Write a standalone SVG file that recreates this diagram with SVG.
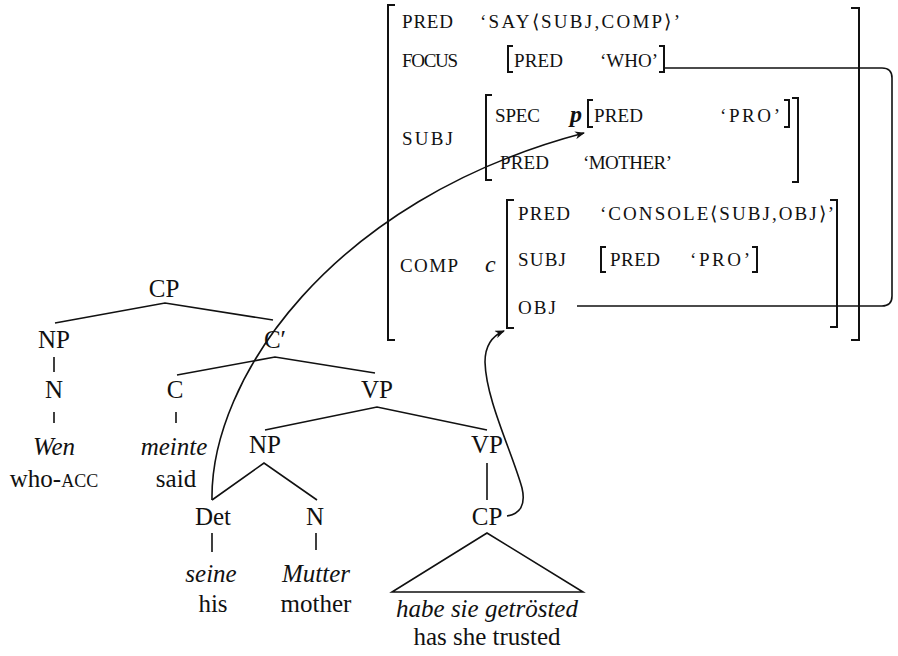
<svg xmlns="http://www.w3.org/2000/svg" width="898" height="656" viewBox="0 0 898 656">
<style>
.t{font-family:"Liberation Serif","Times New Roman",serif;font-size:25px;fill:#111;text-anchor:middle}
.i{font-style:italic}
.sc{font-family:"Liberation Serif","Times New Roman",serif;font-size:19px;fill:#111}
.var{font-family:"Liberation Serif","Times New Roman",serif;font-style:italic;fill:#111}
.ln{stroke:#111;stroke-width:1.6;fill:none}
.br{stroke:#111;stroke-width:2;fill:none}
.cn{stroke:#111;stroke-width:1.6;fill:none}
</style>
<defs>
<marker id="arr" viewBox="0 0 10 8" refX="9" refY="4" markerWidth="10" markerHeight="8" markerUnits="userSpaceOnUse" orient="auto">
<path d="M0,0 L10,4 L0,8 L3,4 Z" fill="#111"/>
</marker>
</defs>
<rect width="898" height="656" fill="#fff"/>

<!-- F-structure -->
<g id="f-outer">
<path class="br" d="M395 5 H388 V340 H395"/>
<path class="br" d="M851 8 H859 V340 H851"/>
<text class="sc" x="402" y="28" textLength="51" lengthAdjust="spacing">PRED</text>
<text class="sc" x="480" y="28" textLength="200" lengthAdjust="spacing">‘SAY⟨SUBJ,COMP⟩’</text>
<text class="sc" x="402" y="67" textLength="56" lengthAdjust="spacing">FOCUS</text>
<text class="sc" x="402" y="145" textLength="51" lengthAdjust="spacing">SUBJ</text>
<text class="sc" x="400" y="272" textLength="58" lengthAdjust="spacing">COMP</text>
</g>
<g id="f-focus">
<path class="br" d="M513 46 H508 V72 H513"/>
<path class="br" d="M659 46 H664 V72 H659"/>
<text class="sc" x="514" y="67" textLength="49" lengthAdjust="spacing">PRED</text>
<text class="sc" x="600" y="67" textLength="58" lengthAdjust="spacing">‘WHO’</text>
</g>
<g id="f-subj">
<path class="br" d="M492 95 H486 V180 H492"/>
<path class="br" d="M792 98 H798 V182 H792"/>
<text class="sc" x="495" y="122" textLength="45" lengthAdjust="spacing">SPEC</text>
<text class="var" x="570" y="122" font-size="24" font-weight="bold">p</text>
<text class="sc" x="500" y="169" textLength="49" lengthAdjust="spacing">PRED</text>
<text class="sc" x="583" y="169" textLength="89" lengthAdjust="spacing">‘MOTHER’</text>
</g>
<g id="f-spec">
<path class="br" d="M593 100 H588 V127 H593"/>
<path class="br" d="M784 100 H789 V127 H784"/>
<text class="sc" x="594" y="122" textLength="49" lengthAdjust="spacing">PRED</text>
<text class="sc" x="720" y="122" textLength="60" lengthAdjust="spacing">‘PRO’</text>
</g>
<g id="f-comp">
<path class="br" d="M514 200 H507 V328 H514"/>
<path class="br" d="M830 200 H837 V327 H830"/>
<text class="var" x="485" y="272" font-size="24">c</text>
<text class="sc" x="518" y="220" textLength="52" lengthAdjust="spacing">PRED</text>
<text class="sc" x="600" y="220" textLength="234" lengthAdjust="spacing">‘CONSOLE⟨SUBJ,OBJ⟩’</text>
<text class="sc" x="518" y="266" textLength="48" lengthAdjust="spacing">SUBJ</text>
<text class="sc" x="518" y="314" textLength="38" lengthAdjust="spacing">OBJ</text>
</g>
<g id="f-comp-subj">
<path class="br" d="M606 247 H601 V272 H606"/>
<path class="br" d="M752 247 H757 V272 H752"/>
<text class="sc" x="610" y="266" textLength="50" lengthAdjust="spacing">PRED</text>
<text class="sc" x="690" y="266" textLength="60" lengthAdjust="spacing">‘PRO’</text>
</g>

<!-- Tree edges -->
<g id="tree-edges">
<path class="ln" d="M55 323 L165 303 L273 320"/>
<path class="ln" d="M54 357 V372 M54 412 V423"/>
<path class="ln" d="M177 375 L275 357 L375 373"/>
<path class="ln" d="M176 412 V423"/>
<path class="ln" d="M265 430 L377 407 L487 430"/>
<path class="ln" d="M212 500 L264 463 L317 500"/>
<path class="ln" d="M212 533 V552 M316 533 V550"/>
<path class="ln" d="M487 463 V500"/>
<path class="ln" d="M487 533 L392 592 H583 Z"/>
</g>

<!-- Tree nodes -->
<g id="n-cp"><text class="t" x="164" y="297">CP</text></g>
<g id="n-np1"><text class="t" x="54" y="348">NP</text></g>
<g id="n-n1"><text class="t" x="54" y="398">N</text></g>
<g id="n-wen"><text class="t i" x="54" y="455">Wen</text><text class="t" x="54" y="487">who-<tspan font-size="18">ACC</tspan></text></g>
<g id="n-cbar"><text class="t" x="275" y="348">C′</text></g>
<g id="n-c"><text class="t" x="175" y="398">C</text></g>
<g id="n-meinte"><text class="t i" x="174" y="455">meinte</text><text class="t" x="176" y="487">said</text></g>
<g id="n-vp1"><text class="t" x="377" y="398">VP</text></g>
<g id="n-np2"><text class="t" x="265" y="453">NP</text></g>
<g id="n-vp2"><text class="t" x="487" y="453">VP</text></g>
<g id="n-det"><text class="t" x="213" y="525">Det</text></g>
<g id="n-n2"><text class="t" x="315" y="525">N</text></g>
<g id="n-cp2"><text class="t" x="487" y="525">CP</text></g>
<g id="n-seine"><text class="t i" x="211" y="582">seine</text><text class="t" x="213" y="612">his</text></g>
<g id="n-mutter"><text class="t i" x="316" y="582">Mutter</text><text class="t" x="316" y="612">mother</text></g>
<g id="n-habe"><text class="t i" x="487" y="617">habe sie getrösted</text><text class="t" x="487" y="645">has she trusted</text></g>

<!-- Connectors -->
<g id="connectors">
<path class="cn" d="M212 500 C210 380, 330 200, 584 133" marker-end="url(#arr)"/>
<path class="cn" d="M507 516 C520 514, 526 505, 522 488 C512 452, 486 400, 485 362 C485 345, 492 336, 504 331" marker-end="url(#arr)"/>
<path class="cn" d="M665 68 H882 Q892 68 892 78 V296 Q892 306 882 306 H577"/>
</g>
</svg>
